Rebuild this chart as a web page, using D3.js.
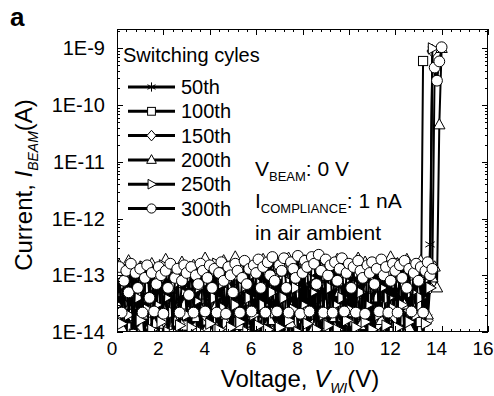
<!DOCTYPE html>
<meta charset="utf-8">

<style>
body { margin: 0; background: #fff; }
text { font-family: "Liberation Sans", Arial, Helvetica, sans-serif; fill: #000; }
.frame { fill: none; stroke: #000; stroke-width: 1; }
.tick { stroke: #000; stroke-width: 1; }
.series-line { fill: none; stroke: #000; stroke-width: 2; }
.mark { fill: #fff; stroke: #000; stroke-width: 1; }
</style>

<body>
<script src="https://d3js.org/d3.v7.min.js"></script>
<script>
var w = 494, h = 396;

// sweep voltage (V), one reading every 0.1 V
var volts = [0,0.1,0.2,0.3,0.4,0.5,0.6,0.7,0.8,0.9,
  1,1.1,1.2,1.3,1.4,1.5,1.6,1.7,1.8,1.9, 2,2.1,2.2,2.3,2.4,2.5,2.6,2.7,2.8,2.9,
  3,3.1,3.2,3.3,3.4,3.5,3.6,3.7,3.8,3.9, 4,4.1,4.2,4.3,4.4,4.5,4.6,4.7,4.8,4.9,
  5,5.1,5.2,5.3,5.4,5.5,5.6,5.7,5.8,5.9, 6,6.1,6.2,6.3,6.4,6.5,6.6,6.7,6.8,6.9,
  7,7.1,7.2,7.3,7.4,7.5,7.6,7.7,7.8,7.9, 8,8.1,8.2,8.3,8.4,8.5,8.6,8.7,8.8,8.9,
  9,9.1,9.2,9.3,9.4,9.5,9.6,9.7,9.8,9.9, 10,10.1,10.2,10.3,10.4,10.5,10.6,10.7,10.8,10.9,
  11,11.1,11.2,11.3,11.4,11.5,11.6,11.7,11.8,11.9, 12,12.1,12.2,12.3,12.4,12.5,12.6,12.7,12.8,12.9,
  13,13.1,13.2,13.3,13.4,13.5,13.6,13.7,13.8,13.9, 14];

// beam current for each cycle, in units of 10 fA (1E-14 A)
var unit = 1e-14;
var cyc50 = [4,0.6,9,2,12,1.5,0.7,6,3,10, 1.2,7,0.6,4,11,2,0.8,5,1.5,8, 3,0.6,9,1.8,6,0.7,12,2.5,1,7,
  0.6,4,10,1.5,0.7,8,3,0.6,6,2, 11,0.8,5,1.3,9,0.6,3.5,7,1.2,0.7, 10,2.5,0.6,6,1.6,12,0.8,4,8,1.1,
  0.6,7,2.2,9,0.7,5,1.4,11,0.6,3, 8,1.2,0.6,10,2.8,6,0.8,12,1.5,4, 0.7,9,2,0.6,7,1.3,11,3,0.7,6,
  1.8,10,0.6,5,2.4,8,0.8,12,1.2,0.6, 7,3,9,0.7,4.5,1.6,11,0.6,6,2, 0.8,8,1.3,10,0.6,5,2.6,0.7,9,1.5,
  6,0.6,12,2,0.8,7,1.2,4,10,0.6, 3,8,0.7,5,1.8,35,95000];
var cyc100 = [2,5,0.5,8,1.2,3,0.6,9,1.8,0.5, 6,1,4,0.6,7,2.2,0.5,5,1.4,8, 0.6,3,1.1,9,0.5,4,2,0.7,6,1.3,
  0.5,7,2.5,0.6,5,1,8,0.5,3,1.6, 6,0.5,9,1.2,0.6,4,2.2,7,0.5,1.5, 8,0.6,3,1.1,6,0.5,9,2,0.7,5,
  1.3,0.5,7,2.4,0.6,4,1,8,0.5,3, 0.6,6,1.5,9,0.5,2.8,5,0.7,1.2,7, 0.5,3.5,1.1,8,0.6,6,2,0.5,9,1.4,
  4,0.6,7,1.2,0.5,5,2.6,8,0.6,1.8, 6,0.5,3,9,1.1,0.6,7,2.2,0.5,4, 1.4,8,0.6,5,0.5,2.5,9,1,0.6,6,
  3,0.5,7,1.6,0.6,5,1.2,8,0.5,2, 6,1.5,60000];
var cyc150 = [7,1.5,11,3,0.7,9,2,13,0.8,5, 10,1.2,6,0.6,12,2.5,8,0.9,4,14, 1.6,7,0.6,10,3,0.8,12,1.4,6,2.2,
  11,0.7,5,9,1.2,13,0.6,4,8,1.8, 0.6,12,3,7,0.9,10,1.5,5,14,0.7, 6,2.4,11,0.6,8,1.3,13,3.5,0.8,9,
  1.7,12,0.6,6,10,2,0.7,14,4,1.2, 9,0.6,11,3,0.8,7,13,1.5,5,0.6, 12,2.2,8,0.7,10,1.4,6,14,0.6,3,
  11,1,7,0.6,13,2.6,9,0.8,5,12, 1.5,0.6,10,4,14,0.7,8,2,11,0.6, 6,13,1.3,9,0.7,12,3,0.6,7,10,
  1.8,0.6,14,5,0.8,11,2.4,8,0.6,12, 3,9,0.7,13,1.6,6,90000];
var cyc200 = [5,15,1.2,9,0.7,18,3,11,0.8,7, 14,2,0.7,10,4,16,1.4,8,0.8,12, 2.6,19,0.7,6,13,1.5,9,0.8,17,3,
  11,0.7,7,15,1.8,0.8,12,4.5,20,1.2, 8,0.7,14,3,10,0.8,18,2,6,13, 0.7,21,5,1.3,11,0.8,16,3.5,9,0.7,
  14,2.4,7,19,0.8,12,1.6,10,0.7,17, 4,13,0.8,8,20,1.4,0.7,15,6,11, 2,18,0.7,9,14,1.2,21,0.8,7,12,
  3,16,0.7,10,1.8,19,5,0.8,13,8, 0.7,15,2.2,11,20,1.3,0.8,17,6,9, 14,0.7,4,18,1.6,12,0.8,10,21,2.5,
  7,16,0.7,13,3,19,1.2,0.8,11,15, 5,18,0.8,12,2,16,9,14,6,4500, 100000];
var cyc250 = [3,10,1.4,7,13,2,5,0.9,11,4, 1.6,9,14,2.5,6,1.1,12,3,8,1.5, 15,4,1,10,2.2,7,13,1.3,5,11,
  2,9,1.2,14,3.5,6,1,12,2.4,8, 1.4,11,4,16,1.1,7,2.6,13,5,1.2, 9,3,15,1.5,6,12,1,4,10,2,
  14,1.3,7,3,11,1.1,16,5,2.2,9, 1.2,13,4,8,1.6,15,2.5,6,1,11, 3,16,1.4,9,5,12,1.1,7,14,2,
  10,1.3,6,15,3,1.1,12,4,8,1.6, 13,2.4,7,1.2,16,5,10,1.5,3,14, 1.1,8,12,2,6,15,1.3,4,11,2.6,
  9,1.2,16,3,7,13,1.5,5,10,2, 14,4,8,1.4,12,6,100000];
var cyc300 = [10,14,2.2,8,12,5,16,0.9,11,6, 13,2.2,9,15,4,11,2.3,7,14,10, 2.1,12,6,16,0.9,9,13,2.2,8,15,
  11,4.5,14,2.2,10,7,16,12,2.3,9, 15,6,13,2.2,11,17,8,2.1,14,10, 5,16,12,2.2,9,18,7,13,2.3,15,
  11,19,6,14,2.2,17,10,21,8,2.3, 15,12,20,6,2.2,17,13,9,22,2.1, 11,18,14,2.3,21,16,7,23,12,2.2,
  19,10,15,2.2,17,8,13,20,2.3,11, 16,6,14,2.2,18,12,9,2.1,15,11, 17,7,13,2.3,19,10,14,2.2,8,16,
  12,2.2,15,9,18,6,13,2.3,11,16, 8,14,2.2,12,17,10,13,46000,27000,59000, 105000];

var cycleNames = ["50th", "100th", "150th", "200th", "250th", "300th"];
var cycleData = [cyc50, cyc100, cyc150, cyc200, cyc250, cyc300];
var cycleMarks = ["asterisk", "square", "diamond", "triangle", "right", "circle"];

var xTicks = [0, 2, 4, 6, 8, 10, 12, 14, 16];
var yTicks = [1e-14, 1e-13, 1e-12, 1e-11, 1e-10, 1e-9];
var yTickLabels = ["1E-14", "1E-13", "1E-12", "1E-11", "1E-10", "1E-9"];

var pLeft = 117, pRight = 488, pTop = 29, pBottom = 332;

var svg = d3.select("body").append("svg")
            .attr("width", w)
            .attr("height", h);

var x = d3.scaleLinear().domain([0, 16]).range([pLeft, pRight]);
var y = d3.scaleLog().domain([1e-14, 2.2e-9]).range([pBottom, pTop]);

svg.append("clipPath").attr("id", "plotclip")
    .append("rect")
    .attr("x", pLeft).attr("y", pTop)
    .attr("width", pRight - pLeft).attr("height", pBottom - pTop);

// s = half size of the symbol
function drawMark(g, type, cx, cy, s) {
    if (type == "circle") {
        g.append("circle").attr("class", "mark").attr("cx", cx).attr("cy", cy).attr("r", s);
    } else if (type == "square") {
        var a = s * 0.85;
        g.append("rect").attr("class", "mark").attr("x", cx - a).attr("y", cy - a)
            .attr("width", 2 * a).attr("height", 2 * a);
    } else if (type == "diamond") {
        g.append("path").attr("class", "mark")
            .attr("d", "M" + cx + "," + (cy - s * 1.15) + "L" + (cx + s) + "," + cy +
                       "L" + cx + "," + (cy + s * 1.15) + "L" + (cx - s) + "," + cy + "Z");
    } else if (type == "triangle") {
        g.append("path").attr("class", "mark")
            .attr("d", "M" + cx + "," + (cy - s * 1.15) + "L" + (cx + s * 1.05) + "," + (cy + s * 0.75) +
                       "L" + (cx - s * 1.05) + "," + (cy + s * 0.75) + "Z");
    } else if (type == "right") {
        g.append("path").attr("class", "mark")
            .attr("d", "M" + (cx - s * 0.75) + "," + (cy - s * 1.05) + "L" + (cx + s * 1.15) + "," + cy +
                       "L" + (cx - s * 0.75) + "," + (cy + s * 1.05) + "Z");
    } else {
        g.append("path").attr("class", "mark")
            .attr("d", "M" + cx + "," + (cy - s) + "V" + (cy + s) +
                       "M" + (cx - s * 0.87) + "," + (cy - s / 2) + "L" + (cx + s * 0.87) + "," + (cy + s / 2) +
                       "M" + (cx - s * 0.87) + "," + (cy + s / 2) + "L" + (cx + s * 0.87) + "," + (cy - s / 2));
    }
}

// data
var plot = svg.append("g").attr("clip-path", "url(#plotclip)");
var line = d3.line()
    .x(function(d, i) { return x(volts[i]); })
    .y(function(d) { return y(d * unit); });

cycleData.forEach(function(vals, k) {
    var g = plot.append("g");
    g.append("path").attr("class", "series-line").attr("d", line(vals));
    vals.forEach(function(v, i) {
        drawMark(g, cycleMarks[k], x(volts[i]), y(v * unit), 5.4);
    });
});

// frame + ticks (inward, mirrored)
svg.append("rect").attr("class", "frame")
    .attr("x", pLeft + 0.5).attr("y", pTop + 0.5)
    .attr("width", pRight - pLeft - 1).attr("height", pBottom - pTop - 1);

var ticks = svg.append("g");
d3.range(0, 16.01, 0.4).forEach(function(v) {
    var major = Math.abs(v / 2 - Math.round(v / 2)) < 1e-6;
    var len = major ? 6 : 3;
    var px = Math.round(x(v)) + 0.5;
    ticks.append("line").attr("class", "tick").attr("x1", px).attr("x2", px)
        .attr("y1", pBottom).attr("y2", pBottom - len);
    ticks.append("line").attr("class", "tick").attr("x1", px).attr("x2", px)
        .attr("y1", pTop).attr("y2", pTop + len);
});
y.ticks().forEach(function(t) {
    if (t < 1e-14 || t > 2.2e-9) return;
    var m = Math.round(t / Math.pow(10, Math.floor(Math.log10(t) + 1e-9)));
    var len = m == 1 ? 6 : 3;
    var py = Math.round(y(t)) + 0.5;
    ticks.append("line").attr("class", "tick").attr("y1", py).attr("y2", py)
        .attr("x1", pLeft).attr("x2", pLeft + len);
    ticks.append("line").attr("class", "tick").attr("y1", py).attr("y2", py)
        .attr("x1", pRight).attr("x2", pRight - len);
});

// tick labels
svg.append("g").selectAll("text")
    .data(xTicks).enter().append("text")
    .attr("x", function(d) { return x(d) - 5; })
    .attr("y", 355)
    .attr("text-anchor", "middle")
    .style("font-size", "19px")
    .text(function(d) { return d; });

svg.append("g").selectAll("text")
    .data(yTicks).enter().append("text")
    .attr("x", 105)
    .attr("y", function(d) { return y(d) + 7; })
    .attr("text-anchor", "end")
    .style("font-size", "20px")
    .text(function(d, i) { return yTickLabels[i]; });

// axis titles
var xt = svg.append("text").attr("x", 300).attr("y", 387)
    .attr("text-anchor", "middle").style("font-size", "24px");
xt.append("tspan").text("Voltage, ");
xt.append("tspan").style("font-style", "italic").text("V");
xt.append("tspan").style("font-style", "italic").style("font-size", "14px").attr("dy", 6).text("WI");
xt.append("tspan").attr("dy", -6).text("(V)");

var yt = svg.append("text").attr("transform", "translate(32,185) rotate(-90)")
    .attr("text-anchor", "middle").style("font-size", "24px");
yt.append("tspan").text("Current, ");
yt.append("tspan").style("font-style", "italic").text("I");
yt.append("tspan").style("font-style", "italic").style("font-size", "14px").attr("dy", 6).text("BEAM");
yt.append("tspan").attr("dy", -6).text("(A)");

svg.append("text").attr("x", 10).attr("y", 26)
    .style("font-size", "26px").style("font-weight", "bold").text("a");

// legend
var legend = svg.append("g");
legend.append("text").attr("x", 123).attr("y", 62).style("font-size", "20px").text("Switching cyles");
cycleNames.forEach(function(name, k) {
    var ly = 87 + k * 24.3;
    legend.append("line").attr("x1", 128).attr("x2", 175).attr("y1", ly).attr("y2", ly)
        .attr("stroke", "#000").attr("stroke-width", 3);
    drawMark(legend, cycleMarks[k], 151.5, ly, 4.6);
    legend.append("text").attr("x", 181).attr("y", ly + 7).style("font-size", "20px").text(name);
});

// conditions
var note = svg.append("g").style("font-size", "21px");
var n1 = note.append("text").attr("x", 255).attr("y", 176);
n1.append("tspan").text("V");
n1.append("tspan").style("font-size", "13px").attr("dy", 5).text("BEAM");
n1.append("tspan").attr("dy", -5).text(": 0 V");
var n2 = note.append("text").attr("x", 255).attr("y", 208);
n2.append("tspan").text("I");
n2.append("tspan").style("font-size", "13px").attr("dy", 5).text("COMPLIANCE");
n2.append("tspan").attr("dy", -5).text(": 1 nA");
note.append("text").attr("x", 255).attr("y", 240).text("in air ambient");
</script>
</body>
